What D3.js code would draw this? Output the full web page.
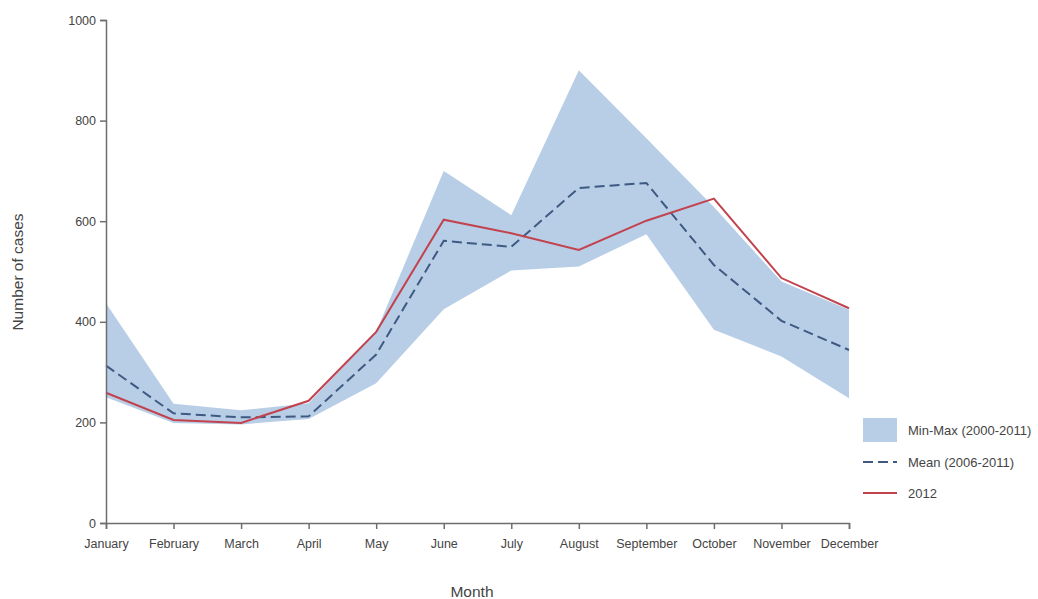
<!DOCTYPE html>
<html>
<head>
<meta charset="utf-8">
<style>
  body { margin: 0; background: #fff; }
  svg { display: block; font-family: "Liberation Sans", Arial, sans-serif; }
  .axis path, .axis line { stroke: #6e6e6e; stroke-width: 1.5px; }
  .axis text { fill: #444; font-size: 12.5px; }
</style>
</head>
<body>
<svg id="chart"></svg>
<script src="https://cdnjs.cloudflare.com/ajax/libs/d3/7.8.5/d3.min.js"></script>
<script>
const months = ["January", "February", "March", "April", "May", "June",
                "July", "August", "September", "October", "November", "December"];
const maxVals  = [437, 237, 224, 238, 380, 700, 612, 900, 765, 628, 480, 424];
const minVals  = [250, 199, 196, 207, 278, 425, 502, 510, 574, 384, 331, 248];
const meanVals = [313, 218, 210, 212, 335, 561, 549, 666, 676, 513, 402, 344];
const vals2012 = [259, 205, 199, 243, 380, 603, 576, 543, 601, 645, 487, 427];
const yTicks = [0, 200, 400, 600, 800, 1000];
const legendLabels = ["Min-Max (2000-2011)", "Mean (2006-2011)", "2012"];

const width = 1038, height = 599;
const svg = d3.select("#chart").attr("width", width).attr("height", height);

const x = d3.scalePoint().domain(months).range([106, 849]);
const y = d3.scaleLinear().domain([0, 1000]).range([523, 20]);

const rows = months.map((m, i) => ({
  m: m, lo: minVals[i], hi: maxVals[i], mean: meanVals[i], cur: vals2012[i]
}));

// min-max band
svg.append("path")
  .datum(rows)
  .attr("fill", "#b8cee6")
  .attr("d", d3.area().x(d => x(d.m)).y0(d => y(d.lo)).y1(d => y(d.hi)));

// mean
svg.append("path")
  .datum(rows)
  .attr("fill", "none")
  .attr("stroke", "#3e5a82")
  .attr("stroke-width", 2)
  .attr("stroke-dasharray", "10,5")
  .attr("d", d3.line().x(d => x(d.m)).y(d => y(d.mean)));

// 2012
svg.append("path")
  .datum(rows)
  .attr("fill", "none")
  .attr("stroke", "#c2424e")
  .attr("stroke-width", 2)
  .attr("d", d3.line().x(d => x(d.m)).y(d => y(d.cur)));

// axes
svg.append("g")
  .attr("class", "axis")
  .attr("transform", "translate(0," + y(0) + ")")
  .call(d3.axisBottom(x).tickSizeOuter(0).tickSize(6).tickPadding(10));

svg.append("g")
  .attr("class", "axis")
  .attr("transform", "translate(" + x(months[0]) + ",0)")
  .call(d3.axisLeft(y).tickValues(yTicks).tickFormat(d3.format("d"))
    .tickSizeOuter(0).tickSize(6).tickPadding(4));

svg.append("text")
  .attr("transform", "translate(23,272) rotate(-90)")
  .attr("text-anchor", "middle")
  .attr("fill", "#444")
  .style("font-size", "15.5px")
  .text("Number of cases");

svg.append("text")
  .attr("x", 472).attr("y", 597)
  .attr("text-anchor", "middle")
  .attr("fill", "#444")
  .style("font-size", "15.5px")
  .text("Month");

// legend
const lg = svg.append("g").attr("transform", "translate(863,0)");
lg.append("rect").attr("x", 0).attr("y", 418).attr("width", 34).attr("height", 24).attr("fill", "#b8cee6");
lg.append("line").attr("x1", 0).attr("x2", 34).attr("y1", 462).attr("y2", 462)
  .attr("stroke", "#3e5a82").attr("stroke-width", 2).attr("stroke-dasharray", "10,5");
lg.append("line").attr("x1", 0).attr("x2", 34).attr("y1", 493).attr("y2", 493)
  .attr("stroke", "#c2424e").attr("stroke-width", 2);
lg.selectAll("text.leg")
  .data(legendLabels)
  .join("text")
  .attr("class", "leg")
  .attr("x", 45)
  .attr("y", (d, i) => [430, 462, 493][i])
  .attr("dy", "0.35em")
  .attr("fill", "#444")
  .style("font-size", "13px")
  .text(d => d);
</script>
</body>
</html>
